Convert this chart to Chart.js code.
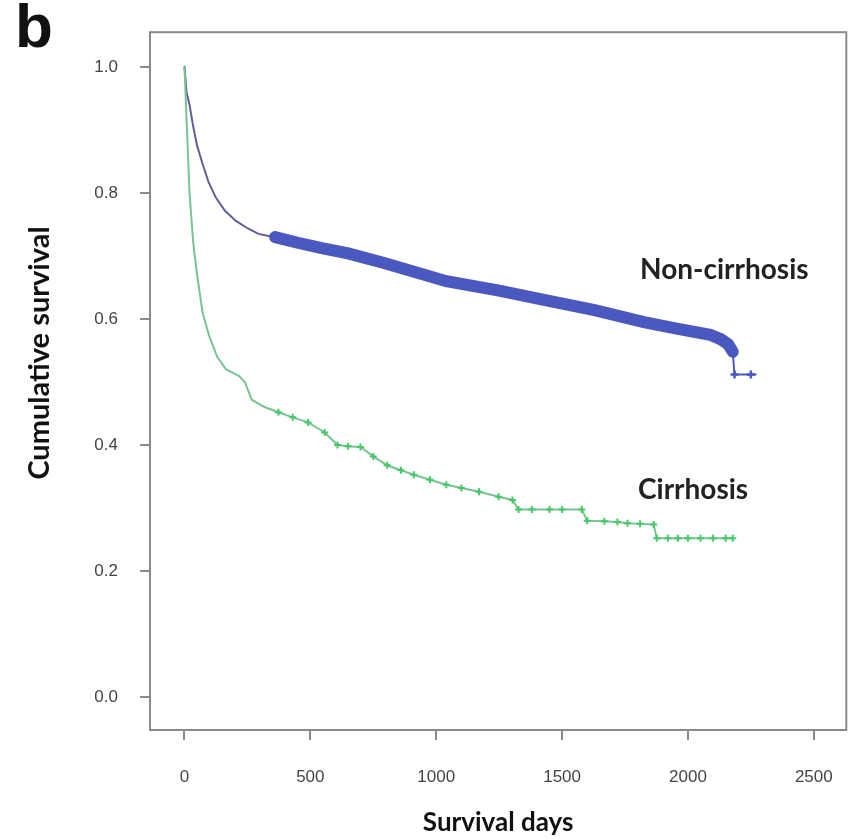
<!DOCTYPE html>
<html>
<head>
<meta charset="utf-8">
<script src="https://cdn.jsdelivr.net/npm/chart.js@4"></script>
<style>
  body { margin: 0; background: #fff; }
</style>
</head>
<body>
<canvas id="km" width="860" height="839"></canvas>
<script>
// Kaplan-Meier curves (days, cumulative survival)
const nonCirDays = [0, 8, 20, 33, 50, 72, 95, 124, 160, 203, 250, 294, 330, 360, 450, 550, 650, 800, 1040, 1250, 1433, 1629, 1825, 1950, 2088, 2130, 2160, 2178, 2185, 2250, 2269];
const nonCirSurv = [1.0, 0.96, 0.94, 0.909, 0.875, 0.846, 0.818, 0.793, 0.772, 0.756, 0.744, 0.735, 0.732, 0.730, 0.721, 0.712, 0.704, 0.688, 0.660, 0.645, 0.630, 0.614, 0.595, 0.585, 0.575, 0.568, 0.560, 0.548, 0.512, 0.512, 0.512];

const cirDays = [0, 10, 20, 35, 50, 72, 98, 130, 165, 216, 240, 267, 320, 373, 430, 491, 557, 608, 650, 699, 750, 805, 860, 911, 975, 1040, 1100, 1170, 1248, 1303, 1327, 1380, 1450, 1500, 1578, 1600, 1668, 1720, 1760, 1810, 1864, 1876, 1920, 1960, 2000, 2050, 2100, 2150, 2178];
const cirSurv = [1.0, 0.90, 0.80, 0.72, 0.67, 0.61, 0.573, 0.540, 0.520, 0.510, 0.500, 0.472, 0.460, 0.452, 0.444, 0.436, 0.420, 0.400, 0.398, 0.397, 0.382, 0.368, 0.360, 0.353, 0.345, 0.337, 0.332, 0.326, 0.318, 0.313, 0.298, 0.298, 0.298, 0.298, 0.298, 0.280, 0.279, 0.278, 0.276, 0.275, 0.274, 0.252, 0.252, 0.252, 0.252, 0.252, 0.252, 0.252, 0.252];

const xTicks = [0, 500, 1000, 1500, 2000, 2500];
const yTicks = [0.0, 0.2, 0.4, 0.6, 0.8, 1.0];

const toPoints = (xs, ys) => xs.map((x, i) => ({ x, y: ys[i] }));

// frame + free text (panel letter, y title, curve labels)
const annotate = {
    id: 'annotate',
    afterDraw(chart) {
        const { ctx, chartArea: a } = chart;
        ctx.save();
        ctx.strokeStyle = '#8a8a8a';
        ctx.lineWidth = 2;
        ctx.strokeRect(a.left, a.top, a.right - a.left, a.bottom - a.top);

        ctx.fillStyle = '#111';
        ctx.textAlign = 'center';
        ctx.textBaseline = 'middle';
        ctx.font = 'bold 62px "Liberation Sans"';
        ctx.fillText('b', 34, 30);

        ctx.font = 'bold 29px Lato';
        ctx.save();
        ctx.translate(40, 353);
        ctx.rotate(-Math.PI / 2);
        ctx.fillText('Cumulative survival', 0, 0);
        ctx.restore();

        ctx.fillStyle = '#222';
        ctx.font = 'bold 28px Lato';
        ctx.textAlign = 'left';
        ctx.fillText('Non-cirrhosis', 640, 270);
        ctx.fillText('Cirrhosis', 638, 490);
        ctx.restore();
    }
};

new Chart(document.getElementById('km'), {
    type: 'line',
    data: {
        datasets: [
            {
                label: 'Cirrhosis',
                data: toPoints(cirDays, cirSurv),
                borderColor: 'rgb(120, 196, 146)',
                borderWidth: 2,
                pointStyle: 'cross',
                pointRadius: ctx => (ctx.raw && ctx.raw.x >= 373 ? 3.5 : 0),
                pointBorderColor: 'rgb(70, 200, 105)',
                pointBorderWidth: 2,
                tension: 0
            },
            {
                label: 'Non-cirrhosis',
                data: toPoints(nonCirDays, nonCirSurv),
                borderColor: 'rgb(96, 96, 150)',
                borderWidth: 2,
                segment: {
                    borderWidth: ctx => (ctx.p0.parsed.x >= 360 && ctx.p1.parsed.x <= 2178 ? 12 : 2),
                    borderColor: ctx => (ctx.p0.parsed.x >= 360 ? 'rgb(74, 88, 192)' : 'rgb(96, 96, 150)')
                },
                borderCapStyle: 'round',
                pointStyle: 'cross',
                pointRadius: ctx => (ctx.raw && ctx.raw.x >= 2185 && ctx.raw.x <= 2250 ? 4 : 0),
                pointBorderColor: 'rgb(74, 88, 192)',
                pointBorderWidth: 2.5,
                tension: 0
            }
        ]
    },
    options: {
        responsive: false,
        animation: false,
        devicePixelRatio: 1,
        layout: { padding: { top: 27, right: 5, left: 0, bottom: 0 } },
        plugins: { legend: { display: false }, tooltip: { enabled: false } },
        scales: {
            x: {
                type: 'linear',
                min: -137,
                max: 2629,
                afterBuildTicks: s => { s.ticks = xTicks.map(v => ({ value: v })); },
                afterFit: s => { s.height = 109; },
                border: { display: false },
                grid: { drawOnChartArea: false, drawTicks: true, tickLength: 10, color: '#8a8a8a', lineWidth: 2 },
                ticks: {
                    padding: 27,
                    color: '#444',
                    font: { family: '"Liberation Sans"', size: 17 },
                    maxRotation: 0,
                    callback: v => String(v)
                },
                title: {
                    display: true,
                    text: 'Survival days',
                    color: '#111',
                    font: { family: 'Lato', size: 26, weight: 'bold' },
                    padding: { top: 0, bottom: 1 }
                }
            },
            y: {
                min: -0.052,
                max: 1.055,
                afterBuildTicks: s => { s.ticks = yTicks.map(v => ({ value: v })); },
                afterFit: s => { s.width = 150; },
                border: { display: false },
                grid: { drawOnChartArea: false, drawTicks: true, tickLength: 10, color: '#8a8a8a', lineWidth: 2 },
                ticks: {
                    padding: 22,
                    color: '#444',
                    font: { family: '"Liberation Sans"', size: 17 },
                    callback: v => v.toFixed(1)
                }
            }
        }
    },
    plugins: [annotate]
});
</script>
</body>
</html>
